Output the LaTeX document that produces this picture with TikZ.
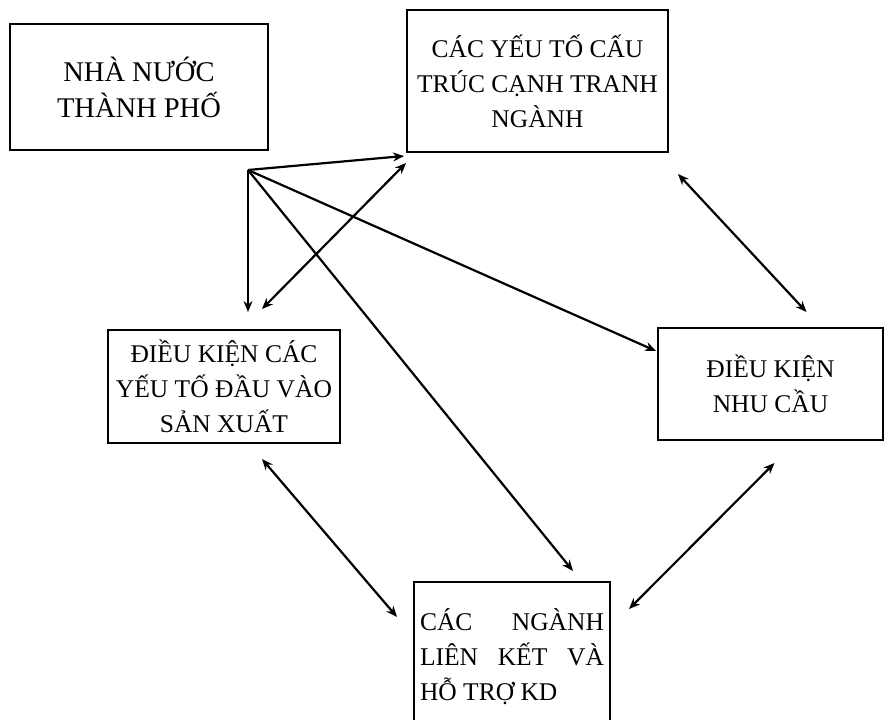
\documentclass[tikz,border=0pt]{standalone}
\usepackage{fontspec}
\setmainfont{Liberation Serif}
\usetikzlibrary{positioning, arrows.meta, calc}

\begin{document}
\begin{tikzpicture}[
  x=1pt, y=-1pt,
  box/.style={
    draw=black, line width=2pt, inner sep=4pt,
    align=center, font=\fontsize{25.5}{35}\selectfont
  },
  arr/.style={-{Stealth[length=11pt, width=9pt]}, line width=2.2pt},
  darr/.style={{Stealth[length=11pt, width=9pt]}-{Stealth[length=11pt, width=9pt]}, line width=2.2pt},
]
\clip (0,0) rectangle (884,720);
\fill[white] (0,0) rectangle (884,720);

% ===== Boxes =====
\node[box, minimum width=258pt, minimum height=126pt,
      font=\fontsize{28.5}{36}\selectfont] (nn) at (139,87)
  {NHÀ NƯỚC\\THÀNH PHỐ};
\node[box, minimum width=261pt, minimum height=142pt] (cyt) at (537.5,81)
  {CÁC YẾU TỐ CẤU\\TRÚC CẠNH TRANH\\NGÀNH};
\node[box, minimum width=232pt, minimum height=113pt] (dkdv) at (224,386.5)
  {ĐIỀU KIỆN CÁC\\YẾU TỐ ĐẦU VÀO\\SẢN XUẤT};
\node[box, minimum width=225pt, minimum height=112pt] (dknc) at (770.5,384)
  {ĐIỀU KIỆN\\NHU CẦU};
\node[box, inner xsep=6pt, minimum height=150pt, text width=184pt, align=justify] (cn) at (512,657)
  {\hyphenpenalty=10000\relax CÁC NGÀNH LIÊN KẾT VÀ HỖ TRỢ KD};

% ===== Arrows from the state =====
\coordinate (hub) at (248,170);
\draw[arr] (hub) -- ($(cyt.south west)+(-2,3)$);
\draw[arr, shorten >=17pt] (hub) -- (hub |- dkdv.north);
\draw[arr] (hub) -- ($(dknc.north west)+(-1,24)$);
\draw[arr] (hub) -- ($(cn.north)+(61,-10)$);

% ===== Diamond links =====
\draw[darr] ($(dkdv.north)+(38,-20)$) -- ($(cyt.south west)+(0,10)$);
\draw[darr] ($(cyt.south east)+(9,21)$) -- ($(dknc.north)+(36,-15)$);
\draw[darr] ($(dkdv.south)+(38,15)$) -- ($(cn.north west)+(-16,36)$);
\draw[darr] ($(dknc.south)+(4,22)$) -- ($(cn.north east)+(18,28)$);

\end{tikzpicture}
\end{document}
